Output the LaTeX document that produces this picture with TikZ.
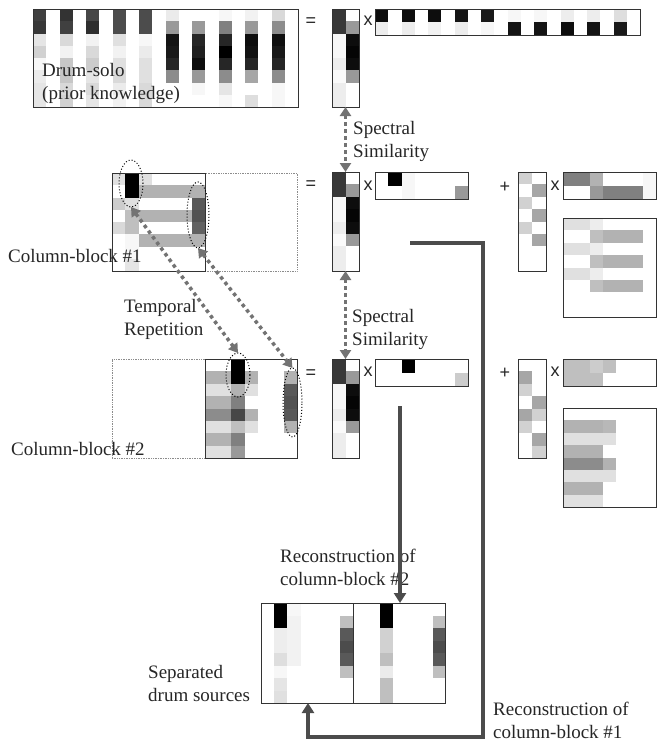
\documentclass[tikz,border=0pt]{standalone}
\usepackage{fontspec}
\setmainfont{Liberation Serif}
\newfontfamily\opsans{Liberation Sans}
\usetikzlibrary{arrows.meta,shapes.geometric}

% one grey-level matrix: name, x, y, cell w, cell h, cols, rows, rows of black %
\newcommand{\cellgrid}[8]{%
  \foreach \rowvals [count=\ri from 0] in {#8} {
    \foreach \val [count=\ci from 0] in \rowvals
      \fill[black!\val] ({#2+\ci*#4},{#3+\ri*#5}) rectangle ++(#4,#5);
  }
  \node[gridbox,minimum width={#6*#4pt},minimum height={#7*#5pt}] (#1) at (#2,#3) {};
}

\begin{document}
\begin{tikzpicture}[x=1pt,y=-1pt,
  font=\fontsize{19}{22.5}\selectfont,text=black!85,
  gridbox/.style={draw=black!80,line width=0.9pt,inner sep=0pt,outer sep=0pt,anchor=north west},
  ghost/.style={draw=black!45,densely dotted,line width=0.7pt,inner sep=0pt,outer sep=0pt,anchor=north west},
  ring/.style={ellipse,draw=black,dotted,line width=1pt,inner sep=0pt,outer sep=0pt},
  lbl/.style={anchor=base west,align=left,inner sep=0pt},
  op/.style={font=\opsans\fontsize{18}{18}\selectfont,inner sep=0pt},
  simarr/.style={{Triangle[width=11pt,length=9pt]}-{Triangle[width=11pt,length=9pt]},
    black!55,line width=3.5pt,dash pattern=on 3.5pt off 3.5pt},
  flow/.style={-{Triangle[width=12pt,length=10pt]},black!70,line width=4pt}]
\useasboundingbox (0,0) rectangle (662,742);

% dotted outlines of the rest of each column block
\node[ghost,minimum width=92pt,minimum height=98pt] (ghost1) at (205,173) {};
\node[ghost,minimum width=93pt,minimum height=99pt] (ghost2) at (112,359) {};

% drum-solo = W x H
\cellgrid{solo}{33}{9}{13.25}{12.25}{20}{8}{
  {75,0,80,0,72,0,70,0,70,0,8,0,0,0,3,0,5,0,15,0},
  {78,0,75,0,82,0,70,0,70,0,40,0,40,0,50,0,40,0,45,0},
  {10,0,15,0,5,0,12,0,3,0,92,0,85,0,85,0,95,0,94,0},
  {18,0,5,0,15,0,5,0,8,0,90,0,88,0,100,0,93,0,90,0},
  {3,0,22,0,20,0,12,0,12,0,85,0,95,0,85,0,85,0,85,0},
  {8,0,22,0,10,0,15,0,12,0,45,0,40,0,45,0,35,0,45,0},
  {10,0,15,0,15,0,8,0,15,0,0,0,3,0,10,0,0,0,3,0},
  {10,0,18,0,10,0,5,0,15,0,0,0,0,0,3,0,13,0,3,0}}
\cellgrid{wtop}{332}{9}{13.5}{12.25}{2}{8}{
  {78,0},{78,40},{3,95},{3,98},{7,95},{2,40},{7,0},{7,0}}
\cellgrid{htop}{375}{9}{13.25}{13}{20}{2}{
  {95,0,95,0,95,0,92,0,90,0,3,0,3,0,7,0,7,0,13,0},
  {7,0,7,0,5,0,7,0,3,0,92,0,92,0,95,0,92,0,90,0}}

% column-block #1
\cellgrid{blk1}{112}{173}{13.3}{12.25}{7}{8}{
  {12,100,12,0,0,0,0},
  {0,100,30,30,30,30,30},
  {20,12,0,0,0,0,65},
  {0,25,30,30,30,30,68},
  {15,25,0,0,0,0,62},
  {0,3,30,30,30,30,30},
  {0,3,0,0,0,0,0},
  {0,10,0,0,0,0,0}}
\cellgrid{w1}{332}{172}{13.5}{12.375}{2}{8}{
  {78,0},{78,40},{3,95},{3,98},{7,95},{2,40},{7,0},{7,0}}
\cellgrid{h1}{375}{172}{13.3}{13.5}{7}{2}{
  {0,100,3,0,0,0,0},
  {0,0,3,0,0,0,40}}
\cellgrid{wh1}{518}{172}{14}{12.375}{2}{8}{
  {18,0},{0,35},{18,0},{0,35},{18,0},{0,35},{0,0},{0,0}}
\cellgrid{hh1}{563}{172}{13.3}{13.5}{7}{2}{
  {50,50,30,0,0,0,3},
  {0,0,40,50,50,50,3}}
\cellgrid{p1}{563}{218}{13.3}{12.375}{7}{8}{
  {12,12,7,0,0,0,0},
  {0,0,25,30,30,30,0},
  {12,12,7,0,0,0,0},
  {0,0,25,30,30,30,0},
  {12,12,7,0,0,0,0},
  {0,0,25,30,30,30,0},
  {0,0,0,0,0,0,0},
  {0,0,0,0,0,0,0}}

% column-block #2
\cellgrid{blk2}{205}{359}{13.2}{12.375}{7}{8}{
  {0,0,100,0,0,0,0},
  {30,30,100,30,0,0,30},
  {12,12,30,12,0,0,65},
  {30,30,50,0,0,0,68},
  {45,45,72,30,0,0,65},
  {12,12,25,12,0,0,30},
  {30,30,50,0,0,0,0},
  {12,12,40,0,0,0,0}}
\cellgrid{w2}{332}{359}{13.5}{12.375}{2}{8}{
  {78,0},{78,40},{3,95},{3,98},{7,95},{2,40},{7,0},{7,0}}
\cellgrid{h2}{375}{359}{13.3}{13.5}{7}{2}{
  {0,0,100,0,0,0,0},
  {0,0,0,0,0,0,20}}
\cellgrid{wh2}{518}{359}{14}{12.375}{2}{8}{
  {0,0},{35,0},{18,0},{0,35},{35,18},{18,0},{0,35},{0,18}}
\cellgrid{hh2}{563}{359}{13.3}{13.5}{7}{2}{
  {25,25,20,25,0,0,0},
  {25,25,25,0,0,0,0}}
\cellgrid{p2}{563}{408}{13.3}{12.375}{7}{8}{
  {0,0,0,0,0,0,0},
  {30,30,30,28,0,0,0},
  {12,12,12,12,0,0,0},
  {30,30,30,0,0,0,0},
  {45,45,45,30,0,0,0},
  {12,12,12,12,0,0,0},
  {30,30,30,0,0,0,0},
  {12,12,12,0,0,0,0}}

% separated drum sources
\cellgrid{r1}{261}{603}{13.2}{12.5}{7}{8}{
  {0,100,3,0,0,0,0},
  {0,100,5,0,0,0,25},
  {0,7,5,0,0,0,65},
  {0,7,5,0,0,0,70},
  {0,13,5,0,0,0,65},
  {0,3,0,0,0,0,25},
  {0,10,0,0,0,0,0},
  {0,12,0,0,0,0,0}}
\cellgrid{r2}{353.4}{603}{13.2}{12.5}{7}{8}{
  {0,0,100,0,0,0,0},
  {0,0,100,0,0,0,25},
  {0,0,18,0,0,0,65},
  {0,0,18,0,0,0,70},
  {0,0,25,0,0,0,65},
  {0,0,8,0,0,0,25},
  {0,0,25,0,0,0,0},
  {0,0,25,0,0,0,0}}

% operators
\node[op] (eq0) at (311,22) {=};
\node[op] (eq1) at (311,185) {=};
\node[op] (eq2) at (311,374) {=};
\node[op] (mul0) at (368,21) {x};
\node[op] (mul1) at (368,186) {x};
\node[op] (mul2) at (368,372) {x};
\node[op] (plus1) at (505,187) {+};
\node[op] (plus2) at (505,373) {+};
\node[op] (mulh1) at (555,186) {x};
\node[op] (mulh2) at (555,372) {x};

% repeated hits
\node[ring,minimum width=24pt,minimum height=47pt] (hit1a) at (131,183.5) {};
\node[ring,minimum width=22pt,minimum height=66pt] (hit1b) at (198,215) {};
\node[ring,minimum width=24pt,minimum height=44pt] (hit2a) at (238,375) {};
\node[ring,minimum width=19pt,minimum height=69pt] (hit2b) at (292.5,402.5) {};

% labels (anchored at the last baseline)
\node[lbl] (solotxt) at (42,99) {Drum-solo\\(prior knowledge)};
\node[lbl] (sim1) at (353,157) {Spectral\\Similarity};
\node[lbl] (sim2) at (352,345) {Spectral\\Similarity};
\node[lbl] (blk1txt) at (8,262) {Column-block \#1};
\node[lbl] (blk2txt) at (11,455) {Column-block \#2};
\node[lbl] (reptxt) at (124,335) {Temporal\\Repetition};
\node[lbl] (rec2txt) at (280,585) {Reconstruction of\\column-block \#2};
\node[lbl] (septxt) at (148,701) {Separated\\drum sources};
\node[lbl] (rec1txt) at (493,738) {Reconstruction of\\column-block \#1};

% similarity / repetition links
\draw[simarr] (wtop.south) -- (w1.north);
\draw[simarr] (w1.south) -- (w2.north);
\draw[simarr] (hit1a.south) -- (hit2a.north);
\draw[simarr] (hit1b.south) -- (hit2b.north);

% reconstruction paths
\coordinate (h1out) at (410,243);
\coordinate (turn) at (483,737);
\coordinate (back) at (308,737);
\draw[flow] (h1out) -| (turn) -- (back) -- (back |- r1.south);
\coordinate (h2out) at (400,406);
\draw[flow] (h2out) -- (h2out |- r2.north);
\end{tikzpicture}
\end{document}
